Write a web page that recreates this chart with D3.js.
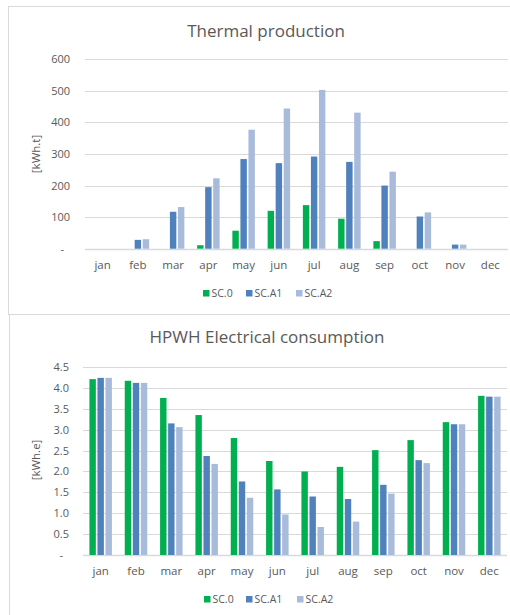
<!DOCTYPE html>
<html>
<head>
<meta charset="utf-8">
<script src="https://cdn.jsdelivr.net/npm/d3@7"></script>
<style>
  html, body { margin: 0; padding: 0; background: #fff; }
  svg { display: block; font-family: "Open Sans", Lato, sans-serif; }
</style>
</head>
<body>
<svg id="chart" width="510" height="615"></svg>
<script>
// ---- data ----
const months = ["jan","feb","mar","apr","may","jun","jul","aug","sep","oct","nov","dec"];
const seriesNames = ["SC.0","SC.A1","SC.A2"];
const seriesColors = ["#00B050","#4F81BD","#A9BBDB"];

// Thermal production [kWh.t]
const thermalSC0  = [0, 0, 0, 11, 57, 120, 138, 95, 24, 0, 0, 0];
const thermalSCA1 = [0, 28, 117, 195, 284, 271, 292, 275, 200, 102, 13, 0];
const thermalSCA2 = [0, 30, 132, 223, 377, 444, 503, 431, 244, 115, 13, 0];
const thermalTicks = [0, 100, 200, 300, 400, 500, 600];

// HPWH Electrical consumption [kWh.e]
const elecSC0  = [4.21, 4.17, 3.76, 3.35, 2.80, 2.25, 2.00, 2.11, 2.51, 2.75, 3.18, 3.81];
const elecSCA1 = [4.24, 4.12, 3.15, 2.37, 1.76, 1.57, 1.40, 1.34, 1.68, 2.27, 3.13, 3.79];
const elecSCA2 = [4.24, 4.12, 3.06, 2.18, 1.37, 0.97, 0.67, 0.80, 1.47, 2.20, 3.13, 3.79];
const elecTicks = [0, 0.5, 1.0, 1.5, 2.0, 2.5, 3.0, 3.5, 4.0, 4.5];

const svg = d3.select("#chart");
const textCol = "#595959";
const gridCol = "#D9D9D9";

function drawPanel(cfg) {
  const g = svg.append("g");
  // panel border
  g.append("rect")
    .attr("x", cfg.box[0] + 0.5).attr("y", cfg.box[1] + 0.5)
    .attr("width", cfg.box[2]).attr("height", cfg.box[3])
    .attr("fill", "#fff").attr("stroke", "#D9D9D9").attr("stroke-width", 1);

  // title
  g.append("text")
    .attr("x", cfg.titleX).attr("y", cfg.titleY)
    .attr("text-anchor", "middle")
    .attr("font-size", 17).attr("fill", textCol)
    .text(cfg.title);

  const x = d3.scaleBand().domain(months).range([cfg.left, cfg.right]).paddingInner(0).paddingOuter(0);
  const y = d3.scaleLinear().domain([0, cfg.max]).range([cfg.bottom, cfg.top]);

  // gridlines
  g.append("g").selectAll("line").data(cfg.ticks).join("line")
    .attr("x1", cfg.left).attr("x2", cfg.right)
    .attr("y1", d => Math.round(y(d)) + 0.5).attr("y2", d => Math.round(y(d)) + 0.5)
    .attr("stroke", gridCol).attr("stroke-width", d => d === 0 ? 1.5 : 1);

  // y tick labels
  g.append("g").selectAll("text").data(cfg.ticks).join("text")
    .attr("x", d => d === 0 ? cfg.tickX - 6 : cfg.tickX)
    .attr("y", d => y(d) + 4)
    .attr("text-anchor", "end")
    .attr("font-size", 11).attr("fill", textCol)
    .text(d => d === 0 ? "-" : cfg.fmt(d));

  // y-axis title
  g.append("text")
    .attr("transform", `translate(${cfg.yTitleX},${cfg.yTitleY}) rotate(-90)`)
    .attr("text-anchor", "middle")
    .attr("font-size", 11.5).attr("fill", textCol)
    .text(cfg.yTitle);

  // month labels
  g.append("g").selectAll("text").data(months).join("text")
    .attr("x", d => x(d) + x.bandwidth() / 2)
    .attr("y", cfg.monthY)
    .attr("text-anchor", "middle")
    .attr("font-size", 11.5).attr("fill", textCol)
    .text(d => d);

  // bars
  const x1 = d3.scaleBand().domain(seriesNames).range([0, 22.5]).paddingInner(0.2);
  const groupOffset = (x.bandwidth() - 22.5) / 2;
  cfg.series.forEach((vals, si) => {
    g.append("g").selectAll("rect").data(vals.map((v, i) => ({ m: months[i], v }))).join("rect")
      .attr("x", d => x(d.m) + groupOffset + x1(seriesNames[si]))
      .attr("width", x1.bandwidth())
      .attr("y", d => y(d.v))
      .attr("height", d => Math.max(0, y(0) - y(d.v)))
      .attr("fill", seriesColors[si]);
  });

  // legend
  const lg = g.append("g");
  seriesNames.forEach((name, i) => {
    const lx = cfg.legendX[i];
    lg.append("rect")
      .attr("x", lx).attr("y", cfg.legendY - 7)
      .attr("width", 6.5).attr("height", 6.5)
      .attr("fill", seriesColors[i]);
    lg.append("text")
      .attr("x", lx + 8.5).attr("y", cfg.legendY)
      .attr("font-size", 10.5).attr("fill", textCol)
      .text(name);
  });
}

drawPanel({
  box: [8, 6, 510, 308],
  title: "Thermal production",
  titleX: 266, titleY: 37,
  left: 85, right: 508, top: 59.3, bottom: 248.7, max: 600,
  ticks: thermalTicks, fmt: d3.format("d"),
  tickX: 70,
  yTitle: "[kWh.t]", yTitleX: 40, yTitleY: 154,
  monthY: 269,
  series: [thermalSC0, thermalSCA1, thermalSCA2],
  legendX: [203, 246, 296], legendY: 297
});

drawPanel({
  box: [9, 314, 510, 310],
  title: "HPWH Electrical consumption",
  titleX: 267, titleY: 343,
  left: 83, right: 507, top: 367, bottom: 555, max: 4.5,
  ticks: elecTicks, fmt: d3.format(".1f"),
  tickX: 69,
  yTitle: "[kWh.e]", yTitleX: 40, yTitleY: 460,
  monthY: 575,
  series: [elecSC0, elecSCA1, elecSCA2],
  legendX: [204, 246, 297], legendY: 603
});
</script>
</body>
</html>
